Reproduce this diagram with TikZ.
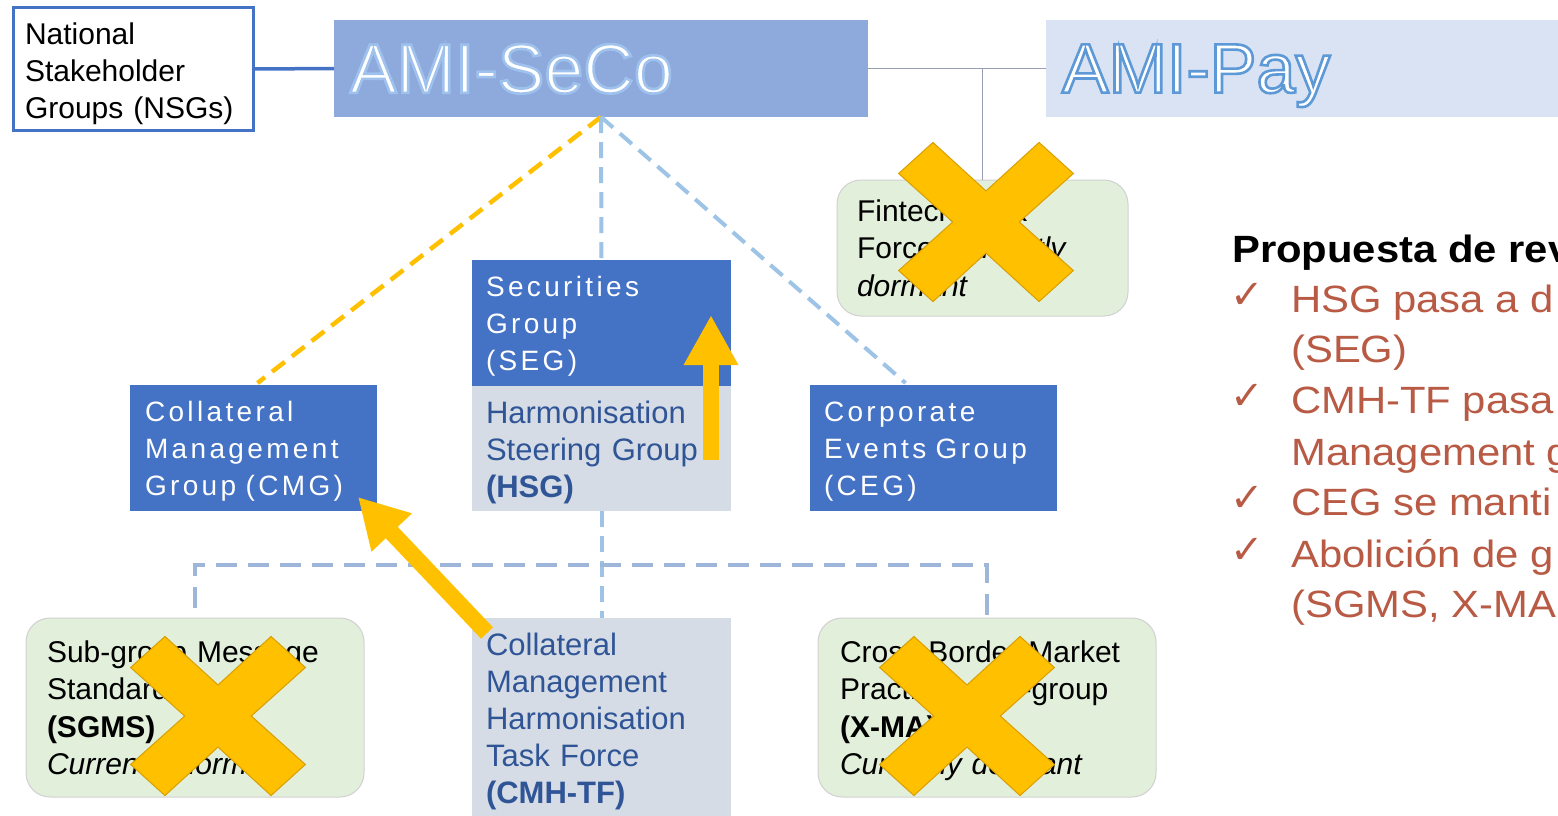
\documentclass[tikz,border=0pt]{standalone}
\usepackage{fontspec}
\setmainfont{Liberation Sans}
\newfontfamily\spaced[LetterSpace=12]{Liberation Sans}
\newfontfamily\widefont[FakeStretch=1.1]{Liberation Sans}
\newfontfamily\symfont{DejaVu Sans}
\usetikzlibrary{arrows.meta,calc}
\definecolor{dblue}{HTML}{4472C4}
\definecolor{secofill}{HTML}{8EA9DB}
\definecolor{payfill}{HTML}{DAE3F3}
\definecolor{lgrey}{HTML}{D6DCE5}
\definecolor{hsgtext}{HTML}{2F5597}
\definecolor{lgreen}{HTML}{E2EFDA}
\definecolor{xyellow}{HTML}{FFC000}
\definecolor{xedge}{HTML}{D99E00}
\definecolor{dashblue}{HTML}{9DC3E6}
\definecolor{bracketblue}{HTML}{9DB6DA}
\definecolor{redt}{RGB}{184,90,68}
\definecolor{linegrey}{RGB}{150,160,178}
\newcommand\outlinetext[2]{\special{pdf:literal direct #1 RG 2 Tr 2.6 w}#2\special{pdf:literal direct 0 Tr}}
\newcommand\tp{\rule{0pt}{0.95em}}
\newcommand\crossmark[1]{%
  \filldraw[xshape,shift={(#1)},xscale=1.04,yscale=0.97] (-51,-82) -- (0,-32) -- (51,-82) -- (84,-50) -- (32,0) -- (84,50)
    -- (51,82) -- (0,32) -- (-51,82) -- (-84,50) -- (-32,0) -- (-84,-50) -- cycle;}
\begin{document}
\begin{tikzpicture}[x=1pt,y=-1pt,
  base/.style={anchor=north west, inner sep=0pt, outer sep=0pt, align=left},
  bluebox/.style={base, fill=dblue, text=white, font=\spaced\fontsize{28}{37}\selectfont},
  greybox/.style={base, fill=lgrey, text=hsgtext, font=\fontsize{31}{37}\selectfont},
  greenbox/.style={base, fill=lgreen, draw=black!18, line width=1pt, rounded corners=24pt, text=black, font=\fontsize{30}{37.5}\selectfont},
  titlebox/.style={base, font=\fontsize{70}{70}\selectfont, text=white, text depth=0pt},
  bdash/.style={draw=dashblue, line width=4pt, dash pattern=on 16pt off 9pt},
  ydash/.style={draw=xyellow, line width=4.5pt, dash pattern=on 16pt off 9pt},
  bracketline/.style={draw=bracketblue, line width=4.5pt, dash pattern=on 21pt off 11pt},
  greyline/.style={draw=linegrey, line width=1.6pt},
  nsgline/.style={draw=dblue, line width=3.5pt},
  yarrow/.style={draw=xyellow, line width=16.5pt},
  xshape/.style={fill=xyellow, draw=xedge, line width=1pt, line join=miter},
  righttext/.style={anchor=base west, inner sep=0pt, text=redt, font=\widefont\fontsize{38}{38}\selectfont},
  checktext/.style={anchor=base west, inner sep=0pt, text=redt, font=\symfont\fontsize{40}{40}\selectfont}
]
\useasboundingbox (0,0) rectangle (1558,815);
\fill[white] (0,0) rectangle (1558,815);

% top level
\node[base, draw=dblue, line width=3pt, fill=white, minimum width=240pt, minimum height=123pt, text width=217pt,
      font=\fontsize{30}{37}\selectfont] (nsg) at (13.5,7.5) {\rule{0pt}{1.02em}National\\Stakeholder\\Groups (NSGs)};
\node[titlebox, fill=secofill, minimum width=534pt, minimum height=97pt, text width=502pt] (seco) at (334,20)
      {\outlinetext{0.62 0.76 0.93}{AMI-SeCo}};
\node[titlebox, fill=payfill, minimum width=530pt, minimum height=97pt, text width=498pt] (pay) at (1046,20)
      {\outlinetext{0.36 0.6 0.84}{AMI-Pay}};

% groups
\node[greenbox, minimum width=291pt, minimum height=136pt, text width=251pt] (fintech) at (837,180)
      {Fintech Task\\Force \textit{Currently}\\\textit{dormant}};
\node[bluebox, minimum width=259pt, minimum height=126pt, text width=231pt] (seg) at (472,260)
      {\tp Securities\\Group\\(SEG)};
\node[greybox, minimum width=259pt, minimum height=125pt, text width=231pt] (hsg) at (472,386)
      {\tp Harmonisation\\Steering Group\\\textbf{(HSG)}};
\node[bluebox, minimum width=247pt, minimum height=126pt, text width=217pt] (cmg) at (130,385)
      {\tp Collateral\\Management\\Group (CMG)};
\node[bluebox, minimum width=247pt, minimum height=126pt, text width=219pt] (ceg) at (810,385)
      {\tp Corporate\\Events Group\\(CEG)};
\node[greenbox, minimum width=338pt, minimum height=179pt, text width=296pt] (sgms) at (26,618)
      {\tp Sub-group Message\\Standards\\\textbf{(SGMS)}\\\textit{Currently dormant}};
\node[greybox, minimum width=259pt, minimum height=199pt, text width=231pt] (cmhtf) at (472,618)
      {\tp Collateral\\Management\\Harmonisation\\Task Force\\\textbf{(CMH-TF)}};
\node[greenbox, minimum width=338pt, minimum height=179pt, text width=294pt] (xma) at (818,618)
      {\tp Cross-Border Market\\Practices sub-group\\\textbf{(X-MA)}\\\textit{Currently dormant}};

% connectors
\draw[nsgline] (nsg.east) -- (seco.west);
\coordinate (jn) at (fintech.north |- seco.east);
\draw[greyline] (seco.east) -- (jn) -- (pay.west);
\draw[greyline] (jn) -- (fintech.north);
\draw[ydash] (seco.south) -- ($(cmg.north)+(4,-2)$);
\draw[bdash] (seco.south) -- (seg.north);
\draw[bdash] (seco.south) -- ($(ceg.north)+(-28,-2)$);
\draw[bdash] (hsg.south) -- (cmhtf.north);
\coordinate (brk) at ($(hsg.south)+(0,54)$);
\draw[bracketline] ($(sgms.north)+(0,-10)$) |- (brk) -| ($(xma.north)+(0,-3)$);

% yellow arrows
\draw[yarrow, -{Triangle[width=51pt,length=50pt]}] ($(hsg.south east)+(-20,-51)$) -- ($(seg.north east)+(-20,55)$);
\draw[yarrow, -{Triangle[width=52pt,length=49pt]}] ($(cmhtf.north west)+(15,15)$) -- ($(cmg.south east)+(-19,-14)$);

% crosses
\crossmark{986,222}
\crossmark{218,716}
\crossmark{967,716}

% right-hand text
\node[anchor=base west, inner sep=0pt, font=\widefont\bfseries\fontsize{38}{38}\selectfont] (head) at (1232,262) {Propuesta de rev};
\node[checktext] (c1) at (1230,308) {✓};
\node[righttext] (r1) at (1291,312) {HSG pasa a d};
\node[righttext] (r2) at (1291,362) {(SEG)};
\node[checktext] (c2) at (1230,409) {✓};
\node[righttext] (r3) at (1291,413) {CMH-TF pasa};
\node[righttext] (r4) at (1291,465) {Management g};
\node[checktext] (c3) at (1230,511) {✓};
\node[righttext] (r5) at (1291,515) {CEG se manti};
\node[checktext] (c4) at (1230,563) {✓};
\node[righttext] (r6) at (1291,567) {Abolición de g};
\node[righttext] (r7) at (1291,617) {(SGMS, X-MA};
\end{tikzpicture}
\end{document}
